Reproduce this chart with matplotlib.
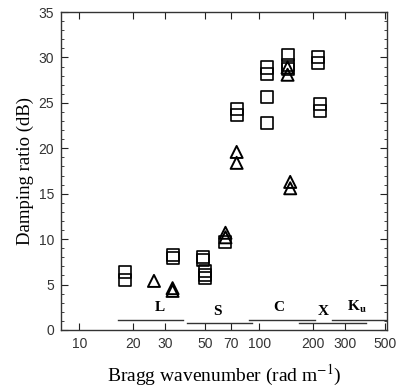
import numpy as np
import matplotlib
matplotlib.use("Agg")
import matplotlib.pyplot as plt
from matplotlib.ticker import FixedLocator, MultipleLocator, NullLocator

plt.rcParams["mathtext.fontset"] = "stix"

# Squares (one series) and triangles (other series)
sq_x = [18, 18, 33, 33, 49, 49, 50, 50, 50, 65, 75, 75, 110, 110, 110, 110,
        144, 144, 144, 214, 214, 218, 218]
sq_y = [6.4, 5.5, 8.2, 7.9, 8.0, 7.7, 6.5, 6.1, 5.7, 9.7, 24.3, 23.7,
        28.9, 28.2, 25.7, 22.8, 30.3, 29.2, 28.7, 30.1, 29.4, 24.9, 24.1]

tri_x = [26, 33, 33, 65, 65, 75, 75, 144, 144, 149, 149]
tri_y = [5.4, 4.6, 4.3, 10.7, 10.2, 19.6, 18.4, 28.9, 28.1, 16.3, 15.6]

# radar bands: name, start, end, bar level, label x, label y
band_names = ["L", "S", "C", "X", "K$_{\\mathbf{u}}$"]
band_start = [16.5, 39.6, 88, 167, 254]
band_end = [37.9, 91, 205, 394, 514]
band_level = [1.07, 0.8, 1.14, 0.77, 1.07]
label_x = [28, 59, 128, 227, 350]
label_y = [1.8, 1.35, 1.8, 1.3, 1.6]

xticks = [10, 20, 30, 50, 70, 100, 200, 300, 500]
xticklabels = ["10", "20", "30", "50", "70", "100", "200", "300", "500"]

fig = plt.figure(figsize=(4, 3.9), dpi=100)
ax = fig.add_axes([0.1525, 0.154, 0.815, 0.815])

ax.scatter(sq_x, sq_y, marker="s", s=75, facecolors="none",
           edgecolors="black", linewidths=1.2, zorder=3)
ax.scatter(tri_x, tri_y, marker="^", s=75, facecolors="none",
           edgecolors="black", linewidths=1.4, zorder=3)

for name, x0, x1, lev, lx, ly in zip(band_names, band_start, band_end,
                                     band_level, label_x, label_y):
    ax.plot([x0, x1], [lev, lev], color="#333333", lw=1.0)
    ax.text(lx, ly, name, ha="center", va="bottom", fontsize=11,
            fontweight="bold", family="Liberation Serif")

ax.set_xscale("log")
ax.set_xlim(7.9, 515)
ax.set_ylim(0, 35)

ax.xaxis.set_major_locator(FixedLocator(xticks))
ax.xaxis.set_minor_locator(NullLocator())
ax.set_xticklabels(xticklabels)
ax.yaxis.set_major_locator(MultipleLocator(5))
ax.yaxis.set_minor_locator(MultipleLocator(1))

ax.tick_params(which="both", direction="in", top=True, right=True,
               labelsize=10, colors="#222222", pad=5)
ax.tick_params(which="major", length=5, width=0.8)
ax.tick_params(which="minor", length=2.5, width=0.6)
for lab in ax.get_xticklabels() + ax.get_yticklabels():
    lab.set_family("Liberation Sans")
    lab.set_color("#333333")

for s in ax.spines.values():
    s.set_linewidth(1.0)
    s.set_color("#333333")

ax.set_xlabel("Bragg wavenumber (rad m$^{-1}$)", family="Liberation Serif",
              fontsize=14, labelpad=9)
ax.set_ylabel("Damping ratio (dB)", family="Liberation Serif",
              fontsize=13.5, labelpad=3)

fig.savefig("out.png", dpi=100)
